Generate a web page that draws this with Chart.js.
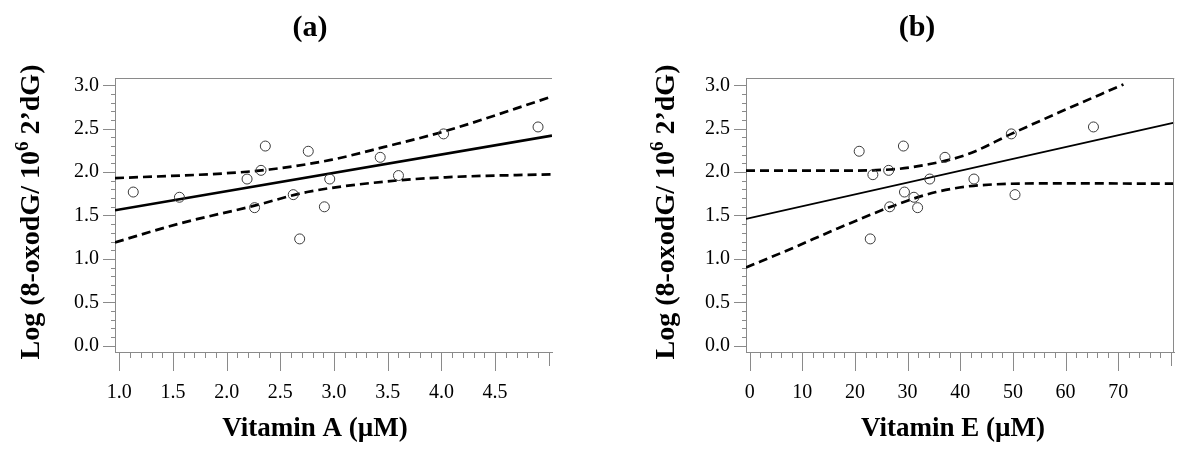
<!DOCTYPE html>
<html lang="en">
<head>
<meta charset="UTF-8">
<title>8-oxodG vs Vitamin A / Vitamin E</title>
<script src="https://cdn.jsdelivr.net/npm/chart.js"></script>
<style>
    body { margin: 0; background: #fff; }
    #wrap { position: relative; width: 1200px; height: 452px; }
    canvas { position: absolute; top: 0; }
    #chartA { left: 0; }
    #chartB { left: 600px; }
</style>
</head>
<body>
<div id="wrap">
    <canvas id="chartA" width="600" height="452"></canvas>
    <canvas id="chartB" width="600" height="452"></canvas>
</div>
<script>
// (a) Vitamin A
const vitA = [1.13, 1.56, 2.19, 2.32, 2.36, 2.26, 2.62, 2.68, 2.76, 2.91, 2.96, 3.43, 3.60, 4.02, 4.90];
const oxoA = [1.77, 1.71, 1.92, 2.02, 2.30, 1.59, 1.74, 1.23, 2.24, 1.60, 1.92, 2.17, 1.96, 2.44, 2.52];
const fitAx = [0.96, 5.03];
const fitAy = [1.56, 2.42];
const upperAx = [0.96, 2.04, 2.40, 2.97, 3.47, 4.03, 5.03];
const upperAy = [1.93, 1.99, 2.03, 2.14, 2.29, 2.47, 2.87];
const lowerAx = [0.96, 1.57, 2.25, 2.75, 3.47, 4.04, 5.03];
const lowerAy = [1.19, 1.41, 1.61, 1.77, 1.89, 1.94, 1.975];

// (b) Vitamin E
const vitE = [20.8, 23.4, 26.4, 29.2, 22.9, 26.6, 29.4, 31.2, 31.9, 34.2, 37.1, 42.6, 49.7, 50.4, 65.3];
const oxoE = [2.24, 1.97, 2.02, 2.30, 1.23, 1.60, 1.77, 1.71, 1.59, 1.92, 2.17, 1.92, 2.44, 1.74, 2.52];
const fitEx = [-0.7, 80.65];
const fitEy = [1.46, 2.57];
const upperEx = [-0.7, 15.2, 26.8, 34.0, 41.2, 49.7, 58.5, 71.0];
const upperEy = [2.016, 2.016, 2.03, 2.09, 2.20, 2.44, 2.68, 3.01];
const lowerEx = [-0.7, 8.0, 16.7, 26.8, 35.4, 44.1, 58.5, 80.65];
const lowerEy = [0.90, 1.12, 1.35, 1.60, 1.77, 1.85, 1.87, 1.866];

// tick labels
const yTickLabels = [0.0, 0.5, 1.0, 1.5, 2.0, 2.5, 3.0];
const xTickLabelsA = [1.0, 1.5, 2.0, 2.5, 3.0, 3.5, 4.0, 4.5];
const xTickLabelsE = [0, 10, 20, 30, 40, 50, 60, 70];

const SERIF = '"Liberation Serif", "Times New Roman", serif';
const AXIS_GREY = '#8a8a8a';

function pts(xs, ys) {
    return xs.map((x, i) => ({ x: x, y: ys[i] }));
}

function isMajor(v, step) {
    const r = v / step;
    return Math.abs(r - Math.round(r)) < 1e-6;
}

// tick marks, frame and titles (with the superscript in the y title)
const decor = {
    id: 'decor',
    afterDraw(chart, args, o) {
        const { ctx, chartArea: a, scales: { x, y } } = chart;
        ctx.save();
        ctx.strokeStyle = AXIS_GREY;
        ctx.lineWidth = 1;
        ctx.beginPath();
        ctx.moveTo(a.left, Math.round(a.top) + 0.5);
        ctx.lineTo(a.right, Math.round(a.top) + 0.5);
        if (o.rightBorder) {
            ctx.moveTo(Math.round(a.right) - 0.5, a.top);
            ctx.lineTo(Math.round(a.right) - 0.5, a.bottom);
        }
        y.ticks.forEach(t => {
            const py = Math.round(y.getPixelForValue(t.value)) + 0.5;
            const len = isMajor(t.value, o.yMajor) ? 12 : 4;
            ctx.moveTo(a.left - len, py);
            ctx.lineTo(a.left, py);
        });
        x.ticks.forEach((t, i) => {
            const px = Math.round(x.getPixelForValue(t.value)) + 0.5;
            let len = isMajor(t.value, o.xMajor) ? 19 : 6;
            if (i === x.ticks.length - 1) len = 14;
            ctx.moveTo(px, a.bottom);
            ctx.lineTo(px, a.bottom + len);
        });
        ctx.stroke();

        ctx.fillStyle = '#000';
        ctx.textAlign = 'center';
        ctx.textBaseline = 'middle';
        ctx.font = 'bold 30px ' + SERIF;
        ctx.fillText(o.panel, o.panelX, 28);
        ctx.font = 'bold 27px ' + SERIF;
        ctx.fillText(o.xTitle, o.xTitleX, 429);

        // y title: Log (8-oxodG/ 10^6 2’dG)
        const parts = [
            { t: 'Log (8-oxodG/ 10', f: 'bold 28px ' + SERIF, dy: 0 },
            { t: '6', f: 'bold 19px ' + SERIF, dy: -11 },
            { t: ' 2\u2019dG)', f: 'bold 28px ' + SERIF, dy: 0 }
        ];
        let total = 0;
        parts.forEach(p => { ctx.font = p.f; p.w = ctx.measureText(p.t).width; total += p.w; });
        ctx.translate(o.yTitleX, (a.top + a.bottom) / 2 + o.yTitleShift);
        ctx.rotate(-Math.PI / 2);
        ctx.textAlign = 'left';
        ctx.textBaseline = 'alphabetic';
        let cx = -total / 2;
        parts.forEach(p => {
            ctx.font = p.f;
            ctx.fillText(p.t, cx, p.dy);
            cx += p.w;
        });
        ctx.restore();
    }
};

function makeChart(id, cfg) {
    const series = [
        {
            data: pts(cfg.px, cfg.py),
            showLine: false,
            pointStyle: 'circle',
            pointRadius: 5,
            pointBorderWidth: 1,
            pointBorderColor: '#3a3a3a',
            pointBackgroundColor: 'rgba(0,0,0,0)'
        },
        {
            data: pts(cfg.fx, cfg.fy),
            showLine: true,
            borderColor: '#000',
            borderWidth: cfg.fitWidth,
            pointRadius: 0
        },
        {
            data: pts(cfg.ux, cfg.uy),
            showLine: true,
            borderColor: '#000',
            borderWidth: 2.7,
            borderDash: [9, 5],
            cubicInterpolationMode: 'monotone',
            pointRadius: 0
        },
        {
            data: pts(cfg.lx, cfg.ly),
            showLine: true,
            borderColor: '#000',
            borderWidth: 2.7,
            borderDash: [9, 5],
            cubicInterpolationMode: 'monotone',
            pointRadius: 0
        }
    ];

    return new Chart(document.getElementById(id), {
        type: 'scatter',
        data: { datasets: series },
        options: {
            responsive: false,
            animation: false,
            devicePixelRatio: 1,
            layout: { padding: { top: 78, right: cfg.padRight, left: 0, bottom: 0 } },
            plugins: {
                legend: { display: false },
                tooltip: { enabled: false },
                decor: cfg.decor
            },
            scales: {
                x: {
                    type: 'linear',
                    min: cfg.xMin,
                    max: cfg.xMax,
                    afterFit: s => { s.height = 100; },
                    grid: { display: false, drawTicks: false },
                    border: { display: true, color: AXIS_GREY, width: 1 },
                    ticks: {
                        stepSize: cfg.xStep,
                        includeBounds: false,
                        autoSkip: false,
                        maxRotation: 0,
                        padding: 29,
                        color: '#000',
                        font: { family: SERIF, size: 20 },
                        callback: v => cfg.xLabels.some(l => Math.abs(l - v) < 1e-6) ? v.toFixed(cfg.xDigits) : ''
                    }
                },
                y: {
                    type: 'linear',
                    min: -0.073,
                    max: 3.084,
                    afterFit: s => { s.width = cfg.yWidth; },
                    grid: { display: false, drawTicks: false },
                    border: { display: true, color: AXIS_GREY, width: 1 },
                    ticks: {
                        stepSize: 0.1,
                        includeBounds: false,
                        autoSkip: false,
                        padding: 16,
                        color: '#000',
                        font: { family: SERIF, size: 20 },
                        callback: v => yTickLabels.some(l => Math.abs(l - v) < 1e-6) ? v.toFixed(1) : ''
                    }
                }
            }
        },
        plugins: [decor]
    });
}

makeChart('chartA', {
    px: vitA, py: oxoA, fx: fitAx, fy: fitAy,
    ux: upperAx, uy: upperAy, lx: lowerAx, ly: lowerAy,
    fitWidth: 2.6,
    xMin: 0.96, xMax: 5.03, xStep: 0.1, xLabels: xTickLabelsA, xDigits: 1,
    yWidth: 115, padRight: 48,
    decor: { panel: '(a)', panelX: 310, xTitle: 'Vitamin A (\u00b5M)', xTitleX: 315,
             yTitleX: 39, yTitleShift: -3, xMajor: 0.5, yMajor: 0.5, rightBorder: false }
});

makeChart('chartB', {
    px: vitE, py: oxoE, fx: fitEx, fy: fitEy,
    ux: upperEx, uy: upperEy, lx: lowerEx, ly: lowerEy,
    fitWidth: 1.8,
    xMin: -0.7, xMax: 80.65, xStep: 2, xLabels: xTickLabelsE, xDigits: 0,
    yWidth: 146, padRight: 21,
    decor: { panel: '(b)', panelX: 317, xTitle: 'Vitamin E (\u00b5M)', xTitleX: 353,
             yTitleX: 74, yTitleShift: -3, xMajor: 10, yMajor: 0.5, rightBorder: true }
});
</script>
</body>
</html>
